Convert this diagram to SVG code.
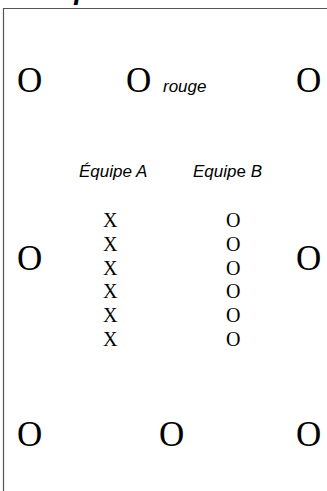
<svg xmlns="http://www.w3.org/2000/svg" width="327" height="491" viewBox="0 0 327 491">
  <style>
    .big { font-family: "Liberation Serif", "Times New Roman", serif; font-size: 35px; fill: #000; }
    .small { font-family: "Liberation Serif", "Times New Roman", serif; font-size: 20px; fill: #000; }
    .lbl { font-family: "Liberation Sans", Arial, sans-serif; font-size: 17px; font-style: italic; fill: #000; }
    .title { font-family: "Liberation Sans", Arial, sans-serif; font-size: 28px; font-style: italic; font-weight: bold; fill: #000; }
  </style>
  <rect width="327" height="491" fill="#fff"/>
  <g id="frame">
    <path d="M327 8.5 H3.5 V491" fill="none" stroke="#555" stroke-width="1.2"/>
    <text class="title" x="40" y="-1">Exposition</text>
  </g>
  <g id="connectors"></g>
  <g id="o-top-left"><text class="big" x="17" y="92">O</text></g>
  <g id="o-top-mid"><text class="big" x="126" y="92">O</text><text class="lbl" x="163" y="92" font-size="21">rouge</text></g>
  <g id="o-top-right"><text class="big" x="296" y="92">O</text></g>
  <g id="o-mid-left"><text class="big" x="17" y="270">O</text></g>
  <g id="o-mid-right"><text class="big" x="296" y="270">O</text></g>
  <g id="o-bot-left"><text class="big" x="17" y="446">O</text></g>
  <g id="o-bot-mid"><text class="big" x="159" y="446">O</text></g>
  <g id="o-bot-right"><text class="big" x="296" y="446">O</text></g>
  <g id="team-a">
    <text class="lbl" x="79" y="177">Équipe A</text>
    <text class="small" x="103" y="227">X</text>
    <text class="small" x="103" y="251">X</text>
    <text class="small" x="103" y="274.5">X</text>
    <text class="small" x="103" y="298">X</text>
    <text class="small" x="103" y="322">X</text>
    <text class="small" x="103" y="346">X</text>
  </g>
  <g id="team-b">
    <text class="lbl" x="193" y="177">Equip<tspan font-style="normal">e</tspan> B</text>
    <text class="small" x="226" y="227">O</text>
    <text class="small" x="226" y="251">O</text>
    <text class="small" x="226" y="274.5">O</text>
    <text class="small" x="226" y="298">O</text>
    <text class="small" x="226" y="322">O</text>
    <text class="small" x="226" y="346">O</text>
  </g>
</svg>
